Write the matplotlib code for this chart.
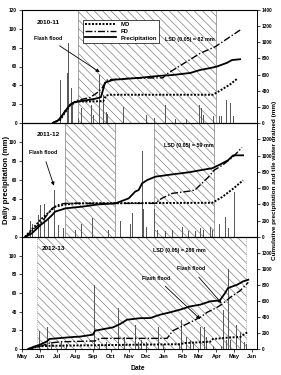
import matplotlib
matplotlib.use("Agg")
import matplotlib.pyplot as plt
from matplotlib.lines import Line2D

plt.rcParams["font.family"] = ["Liberation Sans", "DejaVu Sans"]
plt.rcParams["font.weight"] = "bold"
plt.rcParams["hatch.linewidth"] = 0.5

# x positions are days since 1 May of the season's first year
MONTH_DAYS = [0, 31, 61, 92, 123, 153, 184, 214, 245, 276, 304, 335, 365, 396]
MONTH_LABELS = ["May", "Jun", "Jul", "Aug", "Sep", "Oct", "Nov", "Dec",
                "Jan", "Feb", "Mar", "Apr", "May", "Jun"]

SEASONS = ["2010-11", "2011-12", "2012-13"]
LSD_TEXT = ["LSD (0.05) = 82 mm", "LSD (0.05) = 59 mm", "LSD (0.05) = 288 mm"]

# 2010-11
rain_day_1 = [66, 78, 80, 85, 87, 97, 103, 112, 120, 123, 126, 133, 136, 140, 145, 148,
              175, 198, 215, 228, 247, 264, 284, 306, 309, 313, 330, 341, 344, 353, 359,
              362, 364, 374]
rain_mm_1 = [46, 53, 85, 37, 19, 5, 16, 17, 19, 8, 16, 51, 8, 30, 12, 10,
             17, 7, 8, 5, 19, 4, 4, 19, 16, 8, 7, 7, 7, 24, 21, 12, 7, 6]
precip_day_1 = [53, 62, 71, 78, 83, 91, 109, 126, 136, 140, 143, 157, 203, 238, 260,
                290, 307, 324, 336, 353, 362, 376]
precip_cum_1 = [0, 30, 110, 180, 225, 260, 280, 300, 320, 420, 500, 535, 560, 585, 595,
                620, 657, 680, 700, 745, 780, 790]
fd_day_1 = [53, 66, 74, 83, 95, 117, 129, 138, 147, 186, 243, 248, 272, 307, 333, 376]
fd_cum_1 = [0, 50, 150, 230, 280, 315, 372, 434, 533, 555, 560, 600, 708, 863, 945, 1152]
md_day_1 = [53, 66, 74, 83, 95, 140, 145, 152, 329, 341, 359, 372]
md_cum_1 = [0, 40, 130, 220, 265, 270, 340, 350, 350, 400, 480, 555]

# 2011-12
rain_day_2 = [14, 18, 24, 29, 32, 39, 46, 56, 57, 63, 72, 86, 92, 103, 121, 138, 149,
              167, 170, 187, 191, 193, 208, 210, 214, 228, 233, 247, 259, 277, 281, 287,
              299, 307, 313, 325, 328, 340, 348, 351, 356, 366, 374, 379]
rain_mm_2 = [17, 14, 28, 23, 34, 35, 20, 49, 40, 13, 9, 6, 7, 14, 20, 4, 7,
             7, 17, 14, 25, 11, 91, 30, 11, 30, 7, 6, 7, 11, 13, 6,
             6, 9, 7, 11, 7, 14, 11, 21, 9, 47, 4, 4]
precip_day_2 = [6, 17, 32, 43, 52, 57, 75, 103, 132, 161, 172, 184, 195, 201, 207, 216,
                230, 259, 287, 310, 328, 341, 355, 364, 381]
precip_cum_2 = [0, 45, 147, 209, 270, 311, 352, 372, 401, 413, 442, 475, 557, 577, 659,
                700, 741, 769, 794, 823, 845, 889, 942, 1003, 1003]
fd_day_2 = [5, 34, 52, 63, 74, 229, 241, 259, 288, 298, 310, 322, 331, 345, 364, 379]
fd_cum_2 = [0, 184, 352, 398, 413, 413, 475, 536, 563, 577, 659, 741, 820, 880, 985, 1100]
md_day_2 = [5, 34, 57, 74, 91, 328, 345, 364, 381]
md_cum_2 = [0, 225, 372, 398, 413, 420, 491, 594, 696]

# 2012-13
rain_day_3 = [30, 36, 44, 45, 51, 68, 77, 88, 100, 117, 125, 134, 145, 157, 166, 176,
              181, 195, 201, 206, 215, 235, 244, 255, 272, 275, 284, 290, 295, 307, 314,
              318, 330, 344, 347, 353, 356, 359, 367, 370, 376, 379, 384, 387]
rain_mm_3 = [19, 7, 24, 52, 7, 7, 5, 14, 5, 5, 69, 5, 7, 5, 44, 13,
             5, 26, 7, 10, 7, 24, 5, 8, 5, 31, 13, 10, 8, 24, 24,
             13, 3, 3, 42, 10, 86, 10, 7, 26, 18, 18, 8, 5]
precip_day_3 = [11, 19, 31, 43, 47, 66, 88, 100, 122, 126, 157, 169, 181, 203, 221, 238,
                255, 272, 290, 307, 324, 341, 350, 355, 371, 381, 390]
precip_cum_3 = [0, 25, 54, 95, 125, 137, 150, 155, 179, 229, 271, 312, 366, 385, 387, 429,
                458, 491, 533, 554, 595, 608, 700, 762, 804, 845, 866]
fd_day_3 = [10, 31, 48, 66, 126, 134, 250, 260, 284, 307, 319, 336, 345, 359, 376, 390]
fd_cum_3 = [0, 33, 75, 90, 100, 133, 133, 229, 312, 396, 458, 520, 562, 645, 729, 833]
md_day_3 = [10, 31, 48, 203, 272, 281, 324, 329, 359, 376, 381, 390]
md_cum_3 = [0, 33, 40, 54, 60, 75, 90, 125, 145, 150, 175, 216]

# shaded (hatched) periods, days since 1 May
hatch_1 = [(97, 334)]
hatch_2 = [(74, 160), (228, 331)]
hatch_3 = [(26, 386)]

panels = [
    (rain_day_1, rain_mm_1, precip_day_1, precip_cum_1, fd_day_1, fd_cum_1, md_day_1, md_cum_1, hatch_1),
    (rain_day_2, rain_mm_2, precip_day_2, precip_cum_2, fd_day_2, fd_cum_2, md_day_2, md_cum_2, hatch_2),
    (rain_day_3, rain_mm_3, precip_day_3, precip_cum_3, fd_day_3, fd_cum_3, md_day_3, md_cum_3, hatch_3),
]

# flash flood notes: (panel, text x, text y, arrow x, arrow y) in left-axis units
flash_notes = [(0, 45, 90, 134, 54), (1, 36, 89, 55, 54),
               (2, 292, 86, 344, 49), (2, 232, 76, 307, 32)]

MD_STYLE = dict(color="black", lw=1.4, linestyle=(0, (1, 0.8)))
FD_STYLE = dict(color="black", lw=1.0, linestyle=(0, (5, 1.5, 1, 1.5)))
PR_STYLE = dict(color="black", lw=1.3)

fig = plt.figure(figsize=(2.81, 3.75), dpi=100)
left, width = 22 / 281, 235 / 281
bounds = [(10, 123), (123, 237), (237, 349)]
axes = []
for top, bot in bounds:
    axes.append(fig.add_axes([left, 1 - bot / 375, width, (bot - top) / 375]))

tick_fs = 3.4
for i, ax in enumerate(axes):
    rd, rm, pd_, pc, fd, fc, md, mc, hatch = panels[i]
    for a, b in hatch:
        ax.axvspan(a, b, facecolor="none", edgecolor="0.5", hatch="\\\\\\\\",
                   linewidth=0.5, linestyle=":" if i == 2 else "-", zorder=0)
    ax.bar(rd, rm, width=1.3, color="0.35", linewidth=0, zorder=2)
    ax.set_xlim(0, 405)
    ax.set_ylim(0, 120)
    ax.set_yticks([0, 20, 40, 60, 80, 100, 120] if i == 0 else [0, 20, 40, 60, 80, 100])
    ax.set_xticks(MONTH_DAYS)
    if i == 2:
        ax.set_xticklabels(MONTH_LABELS, fontsize=4.1, fontweight="bold")
    else:
        ax.set_xticklabels([])
    ax.tick_params(axis="both", length=2, width=0.5, labelsize=tick_fs, pad=1.5)
    ax.tick_params(axis="x", labelsize=4.1)
    for s in ax.spines.values():
        s.set_linewidth(0.6)

    ax2 = ax.twinx()
    ax2.set_ylim(0, 1400)
    ax2.set_yticks(list(range(0, 1401, 200)) if i == 0 else list(range(0, 1201, 200)))
    ax2.tick_params(axis="y", length=2, width=0.5, labelsize=tick_fs, pad=1.5)
    ax2.plot(pd_, pc, **PR_STYLE)
    ax2.plot(fd, fc, **FD_STYLE)
    ax2.plot(md, mc, **MD_STYLE)
    ax2.spines["right"].set_linewidth(0.6)

    ax.text(0.11 if i < 2 else 0.135, 0.89 if i == 0 else 0.9, SEASONS[i],
            transform=ax.transAxes, ha="center", va="center", fontsize=4.6, fontweight="bold")
    lsd_x = [289, 287, 271][i]
    lsd_y = [89, 96, 105][i]
    ax.text(lsd_x, lsd_y, LSD_TEXT[i], ha="center", va="center", fontsize=3.9,
            fontweight="bold", zorder=5)

for p, tx, ty, axx, axy in flash_notes:
    axes[p].annotate("Flash flood", xy=(axx, axy), xytext=(tx, ty), fontsize=3.8,
                     fontweight="bold", ha="center", va="center", zorder=6,
                     arrowprops=dict(arrowstyle="-|>", color="black", lw=0.6,
                                     mutation_scale=5, shrinkA=3, shrinkB=0))

handles = [Line2D([], [], **MD_STYLE), Line2D([], [], **FD_STYLE), Line2D([], [], **PR_STYLE)]
leg = axes[0].legend(handles, ["MD", "FD", "Precipitation"], loc="upper left",
                     bbox_to_anchor=(0.258, 0.915), fontsize=4.3, frameon=True,
                     fancybox=False, edgecolor="black", framealpha=1,
                     handlelength=5.2, borderpad=0.4, labelspacing=0.25,
                     handletextpad=0.7, borderaxespad=0)
leg.get_frame().set_linewidth(0.5)
leg.set_zorder(10)

fig.text(0.022, 0.52, "Daily precipitation (mm)", rotation=90, ha="center",
         va="center", fontsize=5.6, fontweight="bold")
fig.text(0.978, 0.52, "Cumulative precipitation and tile water drained (mm)",
         rotation=90, ha="center", va="center", fontsize=4.6, fontweight="bold")
fig.text(0.49, 0.018, "Date", ha="center", va="center", fontsize=4.8, fontweight="bold")

fig.savefig("out.png", dpi=100)
